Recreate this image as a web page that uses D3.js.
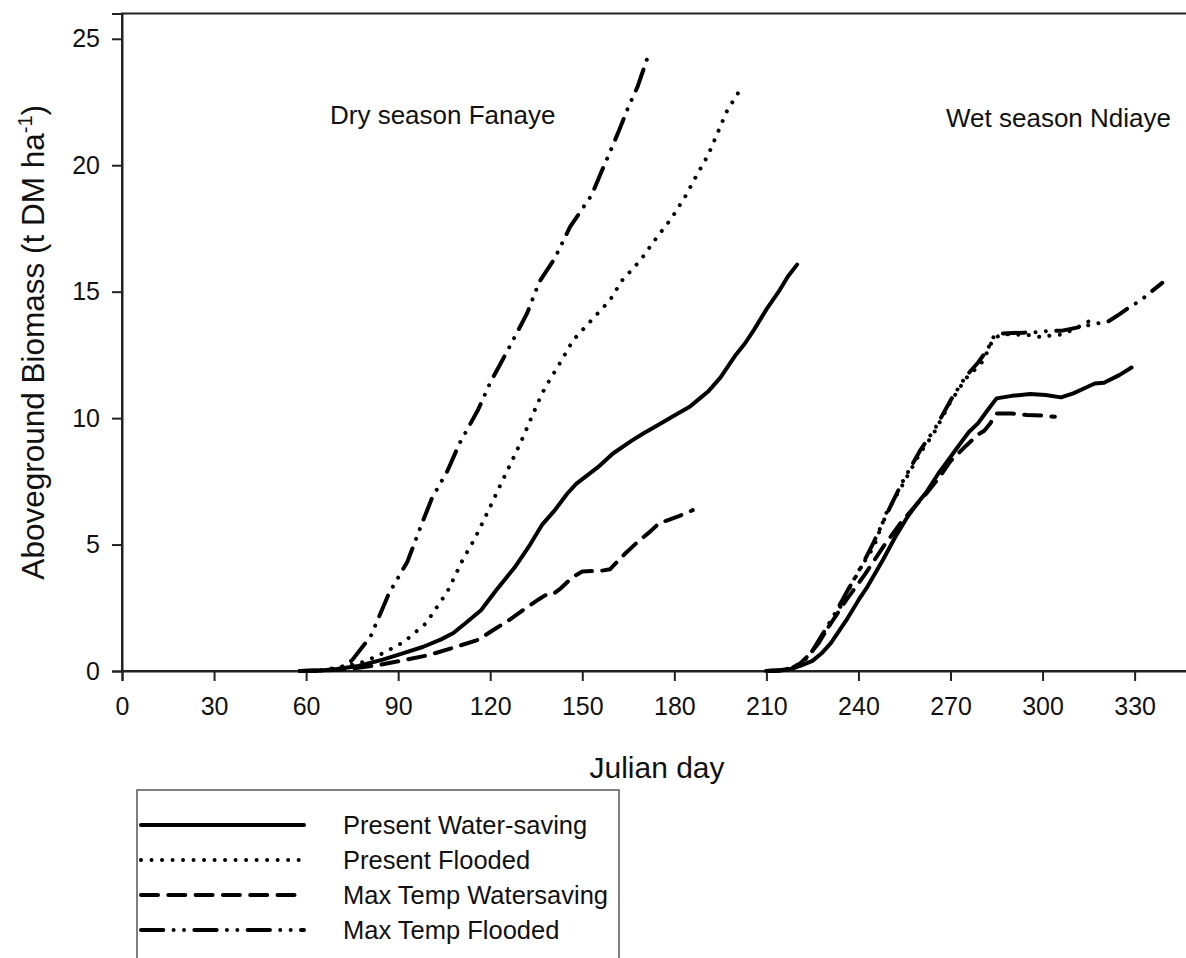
<!DOCTYPE html>
<html><head><meta charset="utf-8">
<script src="https://cdn.jsdelivr.net/npm/d3@7"></script>
<style>
body{margin:0;background:#fff;}
svg{display:block;font-family:"Liberation Sans",Arial,sans-serif;}
</style>
</head><body>
<svg id="chart" width="1186" height="958"></svg>
<script>
// ---- data (Julian day, t DM/ha) ----
const seriesNames = ["Present Water-saving", "Present Flooded", "Max Temp Watersaving", "Max Temp Flooded"];
const xTicks = [0, 30, 60, 90, 120, 150, 180, 210, 240, 270, 300, 330];
const yTicks = [0, 5, 10, 15, 20, 25];
const annotations = ["Dry season Fanaye", "Wet season Ndiaye"];

const dryPresentWS = [[58,0],[65,0.02],[70,0.08],[77,0.2],[85,0.45],[92,0.72],[98,0.95],[104,1.25],[108,1.5],[112,1.9],[117,2.4],[122,3.2],[128,4.1],[133,5.0],[137,5.8],[141,6.35],[145,7.0],[148,7.4],[155,8.05],[160,8.6],[166,9.1],[170,9.4],[175,9.75],[180,10.1],[185,10.45],[188,10.75],[191,11.05],[195,11.6],[200,12.5],[203,12.95],[206,13.5],[210,14.3],[214,15.0],[217,15.6],[220,16.07]];
const dryPresentFl = [[58,0],[65,0.03],[72,0.17],[79,0.37],[85,0.7],[92,1.16],[99,1.88],[106,3.13],[111,4.39],[115,5.24],[120,6.5],[123,7.28],[128,8.54],[131,9.33],[134,10.18],[137,11.0],[139,11.43],[143,12.23],[147,13.08],[153,13.87],[159,14.66],[163,15.45],[169,16.25],[174,17.1],[179,17.89],[183.5,18.75],[187,19.54],[191,20.4],[194,21.25],[197,22.11],[201,22.9]];
const dryMaxWS = [[58,0],[66,0.02],[73,0.07],[84,0.24],[93,0.46],[100,0.63],[109,0.96],[116,1.23],[121,1.62],[126,2.0],[130,2.35],[136,2.85],[138,3.0],[140,3.0],[143,3.27],[147,3.73],[150,3.93],[153,3.95],[156,3.96],[159,4.02],[164,4.65],[168,5.1],[172,5.5],[175,5.84],[181,6.1],[186,6.36]];
const dryMaxFl = [[58,0],[65,0.03],[71,0.12],[75,0.43],[81,1.36],[87,3.07],[93,4.32],[97,5.6],[101,6.83],[106,7.9],[110,9.0],[116,10.32],[120,11.4],[124,12.3],[128,13.21],[132,14.14],[136,15.39],[141,16.31],[146,17.56],[153,18.81],[156,19.67],[160,20.8],[162,21.38],[165,22.3],[168,23.1],[172,24.52]];

const wetPresentWS = [[210,0],[214,0.02],[218,0.08],[221,0.2],[225,0.4],[228,0.7],[231,1.1],[236,2.0],[240,2.8],[243,3.35],[248,4.4],[252,5.3],[256,6.1],[259,6.6],[262,7.05],[266,7.8],[269,8.3],[272,8.8],[274,9.13],[276,9.45],[279,9.8],[282,10.3],[285,10.78],[290,10.88],[296,10.95],[301,10.91],[306,10.82],[310,10.98],[314,11.2],[317,11.37],[320,11.4],[325,11.7],[329,12.0]];
const wetPresentFl = [[210,0],[215,0.03],[219,0.15],[222,0.4],[224,0.63],[228,1.3],[233,2.28],[236,3.0],[239.5,3.86],[245,4.91],[249,6.23],[254,7.28],[260,8.6],[264.5,9.39],[270,10.64],[275,11.57],[280,12.16],[282,12.62],[284,13.15],[287,13.32],[292,13.3],[296,13.28],[300,13.19],[303,13.28],[306,13.3],[310,13.5],[314,13.75],[317,13.97]];
const wetMaxWS = [[210,0],[214,0.02],[218,0.1],[221,0.3],[224,0.65],[227,1.1],[230,1.7],[236,2.8],[242,3.8],[248,4.9],[254,5.9],[258,6.45],[262,7.0],[266,7.6],[270,8.3],[275,8.9],[279,9.35],[281,9.5],[283,9.8],[285,10.18],[290,10.18],[295,10.12],[300,10.1],[304,10.05]];
const wetMaxFl = [[210,0],[215,0.03],[219,0.12],[222,0.35],[225,0.8],[229,1.6],[232,2.2],[237,3.3],[240,3.9],[245,5.1],[250,6.4],[254,7.4],[260,8.7],[265,9.6],[270,10.7],[275,11.65],[279,12.2],[282,12.7],[284,13.2],[287,13.35],[294,13.38],[298,13.4],[302,13.45],[306,13.45],[310,13.55],[314,13.65],[318,13.75],[321.5,13.83],[325,14.1],[328.5,14.4],[332,14.66],[335.6,15.02],[339,15.35]];

// ---- styles ----
const dashes = ["none", "0.01 10.5", "17 10.3", "22.3 10.3 0.01 10.4 0.01 10.3"];

const svg = d3.select("#chart");
const x = d3.scaleLinear().domain([0, 350]).range([122, 1196]);
const y = d3.scaleLinear().domain([0, 26]).range([671, 13.5]);

// frame
svg.append("rect").attr("x", x(0)).attr("y", y(26)).attr("width", x(350) - x(0)).attr("height", y(0) - y(26))
  .attr("fill", "none").attr("stroke", "#222").attr("stroke-width", 2);

// axes
const yAxis = svg.append("g").attr("transform", `translate(${x(0)},0)`)
  .call(d3.axisLeft(y).tickValues(yTicks).tickSize(10).tickPadding(12).tickFormat(d3.format("d")));
const xAxis = svg.append("g").attr("transform", `translate(0,${y(0)})`)
  .call(d3.axisBottom(x).tickValues(xTicks).tickSize(10).tickPadding(16).tickFormat(d3.format("d")));
[xAxis, yAxis].forEach(g => {
  g.select(".domain").attr("stroke", "#222").attr("stroke-width", 2);
  g.selectAll(".tick line").attr("stroke", "#222").attr("stroke-width", 2);
  g.selectAll("text").attr("font-size", 25).attr("fill", "#111").attr("font-family", '"Liberation Sans",Arial,sans-serif');
});

// lines
const line = d3.line().x(d => x(d[0])).y(d => y(d[1]));
const dry = [dryPresentWS, dryPresentFl, dryMaxWS, dryMaxFl];
const wet = [wetPresentWS, wetPresentFl, wetMaxWS, wetMaxFl];
[dry, wet].forEach(group => {
  group.forEach((data, i) => {
    svg.append("path").datum(data).attr("d", line)
      .attr("fill", "none").attr("stroke", "#000").attr("stroke-width", 4)
      .attr("stroke-linecap", "round").attr("stroke-linejoin", "round")
      .attr("stroke-dasharray", dashes[i]);
  });
});

// annotations
svg.append("text").attr("x", 330).attr("y", 124).attr("font-size", 26).attr("fill", "#111").text(annotations[0]);
svg.append("text").attr("x", 946).attr("y", 127).attr("font-size", 26).attr("fill", "#111").text(annotations[1]);

// axis titles
svg.append("text").attr("x", 657).attr("y", 778).attr("text-anchor", "middle").attr("font-size", 30).attr("fill", "#111").text("Julian day");
const yt = svg.append("text").attr("transform", `translate(44,${(y(0) + y(26)) / 2}) rotate(-90)`)
  .attr("text-anchor", "middle").attr("font-size", 31.5).attr("fill", "#111");
yt.append("tspan").text("Aboveground Biomass (t DM ha");
yt.append("tspan").attr("dy", -12).attr("font-size", 20).text("-1");
yt.append("tspan").attr("dy", 12).text(")");

// legend
const lg = svg.append("g");
lg.append("rect").attr("x", 137).attr("y", 790).attr("width", 482).attr("height", 220)
  .attr("fill", "#fff").attr("stroke", "#555").attr("stroke-width", 1.5);
seriesNames.forEach((name, i) => {
  const yy = 825 + i * 35;
  lg.append("line").attr("x1", 141).attr("x2", 304).attr("y1", yy).attr("y2", yy)
    .attr("stroke", "#000").attr("stroke-width", 4).attr("stroke-linecap", "round")
    .attr("stroke-dasharray", dashes[i]);
  lg.append("text").attr("x", 343).attr("y", yy + 9).attr("font-size", 25.5).attr("fill", "#111").text(name);
});
</script>
</body></html>
